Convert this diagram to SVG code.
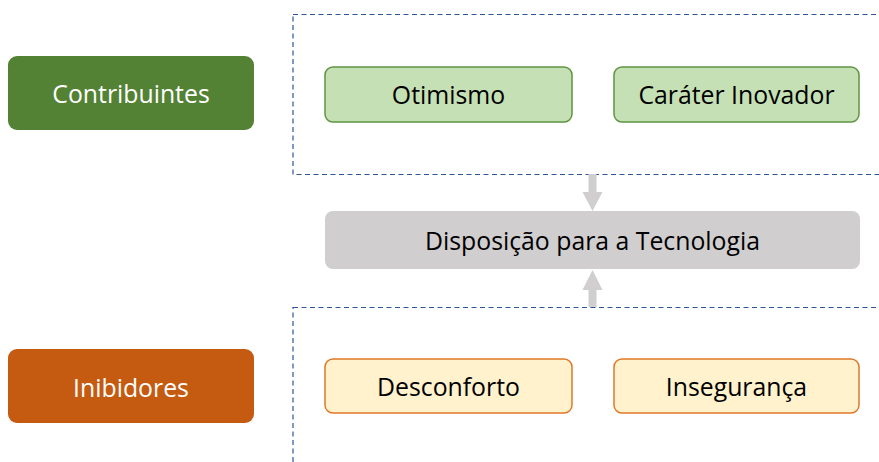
<svg xmlns="http://www.w3.org/2000/svg" width="879" height="462" viewBox="0 0 879 462">
<style>
text{font-family:"Open Sans",Lato,"Liberation Sans",sans-serif;font-size:24.8px;text-anchor:middle}
.cat{fill:#ffffff}
.lbl{fill:#000000}
.grp{fill:none;stroke:#2f5597;stroke-width:1.2;stroke-dasharray:5 3.5}
.pos{fill:#c5e0b4;stroke:#5e9440;stroke-width:1.5}
.neg{fill:#fff2cc;stroke:#e0782a;stroke-width:1.5}
.arr{fill:#d0cece}
</style>
<rect width="879" height="462" fill="#ffffff"/>
<g id="groups">
<rect class="grp" x="293" y="14.5" width="600" height="160"/>
<rect class="grp" x="293" y="307.5" width="600" height="170"/>
</g>
<g id="contribuintes">
<rect x="8" y="56" width="246" height="74" rx="9" fill="#548235"/>
<text class="cat" x="131" y="103">Contribuintes</text>
</g>
<g id="inibidores">
<rect x="8" y="349" width="246" height="74" rx="9" fill="#c55a11"/>
<text class="cat" x="131" y="397">Inibidores</text>
</g>
<g id="otimismo">
<rect class="pos" x="325" y="67" width="247" height="55" rx="8"/>
<text class="lbl" x="448.5" y="104">Otimismo</text>
</g>
<g id="carater">
<rect class="pos" x="614" y="67" width="245" height="55" rx="8"/>
<text class="lbl" x="736.5" y="104">Caráter Inovador</text>
</g>
<g id="disposicao">
<rect x="325" y="211" width="535" height="58" rx="8" fill="#d0cece"/>
<text class="lbl" x="592.5" y="250">Disposição para a Tecnologia</text>
</g>
<g id="desconforto">
<rect class="neg" x="325" y="359" width="247" height="54" rx="8"/>
<text class="lbl" x="448.5" y="396">Desconforto</text>
</g>
<g id="inseguranca">
<rect class="neg" x="614" y="359" width="245" height="54" rx="8"/>
<text class="lbl" x="736.5" y="396">Insegurança</text>
</g>
<g id="connectors">
<path class="arr" d="M588.5 174 H596.5 V192 H602.5 L592.5 211 L582.5 192 H588.5 Z"/>
<path class="arr" d="M588.5 307 H596.5 V290 H602.5 L592.5 270 L582.5 290 H588.5 Z"/>
</g>
</svg>
